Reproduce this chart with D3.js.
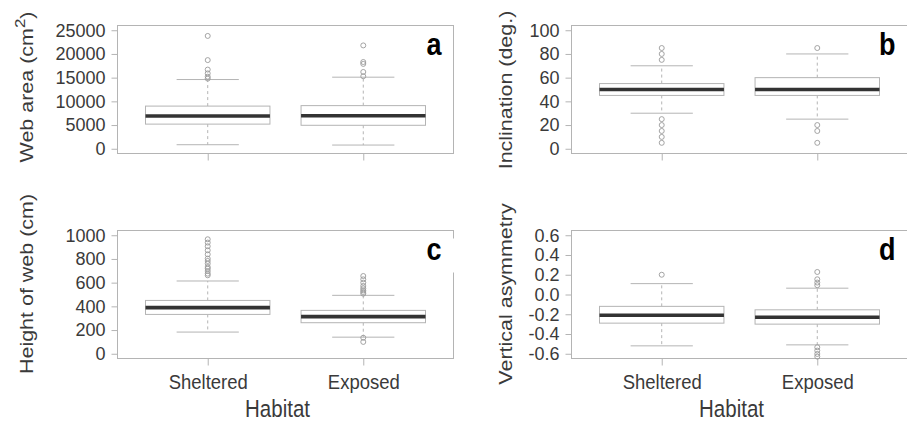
<!DOCTYPE html>
<html>
<head>
<meta charset="utf-8">
<script src="https://cdn.jsdelivr.net/npm/d3@7"></script>
<style>
body { margin: 0; background: #fff; }
svg { display: block; }
text { font-family: "Liberation Sans", Arial, sans-serif; }
</style>
</head>
<body>
<div id="chart"></div>
<script>
// categories on the x axis
const categories = ["Sheltered", "Exposed"];

// box stats per habitat: [lower whisker, Q1, median, Q3, upper whisker]
const webArea = [[850, 5200, 6900, 9000, 14600], [780, 4950, 6950, 9100, 15100]];
const webAreaOut = [[23800, 18700, 16700, 15900, 15200, 14800], [21800, 18300, 17900, 16200, 15300]];
const areaTicks = [0, 5000, 10000, 15000, 20000, 25000];

const inclination = [[30, 45, 50, 55, 70], [25, 45, 50, 60, 80]];
const inclinationOut = [[85, 80, 75, 25, 20, 15, 10, 5], [85, 20, 15, 5]];
const inclTicks = [0, 20, 40, 60, 80, 100];

const webHeight = [[183, 332, 389, 450, 614], [140, 262, 313, 366, 493]];
const webHeightOut = [[966, 938, 907, 873, 839, 803, 783, 761, 732, 718, 698, 676, 662],
                      [656, 628, 600, 572, 552, 535, 521, 507, 135, 100]];
const heightTicks = [0, 200, 400, 600, 800, 1000];

const asymmetry = [[-0.52, -0.29, -0.21, -0.12, 0.11], [-0.51, -0.30, -0.23, -0.155, 0.064]];
const asymmetryOut = [[0.2], [0.228, 0.154, 0.121, 0.094, -0.534, -0.568, -0.602, -0.629]];
const asymTicks = [-0.6, -0.4, -0.2, 0, 0.2, 0.4, 0.6];
const asymTickLabels = ["-0.6", "-0.4", "-0.2", "0.0", "0.2", "0.4", "0.6"];

const W = 907, H = 423;
const svg = d3.select('#chart').append('svg')
    .attr('width', W)
    .attr('height', H);

const panelW = 336, panelH = 128;
const cols = [117.5, 571.5];
const rows = [25.5, 230.5];
// the original text looks a bit stretched vertically
const stretch = 1.13;

const panels = [
  {stats: webArea, out: webAreaOut, ticks: areaTicks, fmt: d => String(d), ylim: [0, 25000],
   title: "Web area (cm", sup: "2", letter: "a", col: 0, row: 0, titleX: 33, titleY: 87},
  {stats: inclination, out: inclinationOut, ticks: inclTicks, fmt: d => String(d), ylim: [0, 100],
   title: "Inclination (deg.)", letter: "b", col: 1, row: 0, titleX: 512, titleY: 90},
  {stats: webHeight, out: webHeightOut, ticks: heightTicks, fmt: d => String(d), ylim: [0, 1000],
   title: "Height of web (cm)", letter: "c", col: 0, row: 1, titleX: 33, titleY: 284},
  {stats: asymmetry, out: asymmetryOut, ticks: asymTicks, fmt: (d, i) => asymTickLabels[i], ylim: [-0.6, 0.6],
   title: "Vertical asymmetry", letter: "d", col: 1, row: 1, titleX: 512, titleY: 294}
];

const grey = "#b4b4b4";
const textCol = "#3a3a3a";

panels.forEach(function(p, pi) {
  const x0 = cols[p.col], y0 = rows[p.row];
  const pad = (p.ylim[1] - p.ylim[0]) * 0.04;
  const yscale = d3.scaleLinear()
      .domain([p.ylim[0] - pad, p.ylim[1] + pad])
      .range([y0 + panelH, y0]);
  const xscale = d3.scaleLinear()
      .domain([0.42, 2.58])
      .range([x0, x0 + panelW]);
  const boxW = xscale(1.4) - xscale(1);
  const g = svg.append('g');

  // y axis ticks + labels
  const yaxis = d3.axisLeft(yscale)
      .tickValues(p.ticks)
      .tickSize(6)
      .tickPadding(6)
      .tickFormat(p.fmt);
  const ya = g.append('g')
      .attr('transform', `translate(${x0},0)`)
      .call(yaxis);
  ya.select('.domain').remove();
  ya.selectAll('line').attr('stroke', grey);
  ya.selectAll('text')
      .attr('fill', textCol)
      .style('font-size', '18px');

  // x axis ticks
  const xaxis = d3.axisBottom(xscale)
      .tickValues([1, 2])
      .tickSize(7)
      .tickFormat((d, i) => p.row === 1 ? categories[i] : "");
  const xa = g.append('g')
      .attr('transform', `translate(0,${y0 + panelH})`)
      .call(xaxis);
  xa.select('.domain').remove();
  xa.selectAll('line').attr('stroke', grey);
  xa.selectAll('text')
      .attr('fill', textCol)
      .attr('dy', null)
      .attr('y', 30.5 / stretch)
      .attr('transform', `scale(1,${stretch})`)
      .style('font-size', '18.5px');

  // frame
  g.append('rect')
      .attr('x', x0).attr('y', y0)
      .attr('width', panelW).attr('height', panelH)
      .attr('fill', 'none')
      .attr('stroke', grey)
      .attr('stroke-width', 1);

  // boxes
  p.stats.forEach(function(s, i) {
    const cx = xscale(i + 1);
    const bg = g.append('g');
    // dashed whiskers
    bg.append('line')
        .attr('x1', cx).attr('x2', cx)
        .attr('y1', yscale(s[3])).attr('y2', yscale(s[4]))
        .attr('stroke', grey).attr('stroke-dasharray', '3,3');
    bg.append('line')
        .attr('x1', cx).attr('x2', cx)
        .attr('y1', yscale(s[1])).attr('y2', yscale(s[0]))
        .attr('stroke', grey).attr('stroke-dasharray', '3,3');
    // staples
    [s[0], s[4]].forEach(function(v) {
      bg.append('line')
          .attr('x1', cx - boxW / 2).attr('x2', cx + boxW / 2)
          .attr('y1', yscale(v)).attr('y2', yscale(v))
          .attr('stroke', grey);
    });
    // box
    bg.append('rect')
        .attr('x', cx - boxW).attr('y', yscale(s[3]))
        .attr('width', boxW * 2).attr('height', yscale(s[1]) - yscale(s[3]))
        .attr('fill', '#fff')
        .attr('stroke', grey);
    // median
    bg.append('line')
        .attr('x1', cx - boxW).attr('x2', cx + boxW)
        .attr('y1', yscale(s[2])).attr('y2', yscale(s[2]))
        .attr('stroke', '#333').attr('stroke-width', 3.6);
    // outliers
    bg.selectAll('circle')
        .data(p.out[i])
        .enter().append('circle')
        .attr('cx', cx)
        .attr('cy', d => yscale(d))
        .attr('r', 2.5)
        .attr('fill', 'none')
        .attr('stroke', '#9a9a9a')
        .attr('stroke-width', 0.9);
  });

  // panel letter (white backing hides part of the frame, as in the original)
  const lx = x0 + panelW - 12, ly = y0 + 29;
  if (pi > 0) {
    g.append('rect')
        .attr('x', lx - 22).attr('y', ly - 21)
        .attr('width', x0 + panelW + 3 - (lx - 22)).attr('height', 34)
        .attr('fill', '#fff');
  }
  g.append('text')
      .attr('transform', `translate(${lx},${ly}) scale(1,${stretch})`)
      .attr('text-anchor', 'end')
      .style('font-size', '27px')
      .style('font-weight', 'bold')
      .attr('fill', '#000')
      .text(p.letter);

  // y title
  const t = g.append('text')
      .attr('transform', `translate(${p.titleX},${p.titleY}) scale(1,${stretch}) rotate(-90)`)
      .attr('text-anchor', 'middle')
      .attr('fill', textCol)
      .style('font-size', '19px');
  t.append('tspan').text(p.title);
  if (p.sup) {
    t.append('tspan').attr('dy', -8).style('font-size', '15px').text(p.sup);
    t.append('tspan').attr('dy', 8).text(")");
  }

  // x title
  if (p.row === 1) {
    g.append('text')
        .attr('transform', `translate(${x0 + panelW / 2 - 8},417) scale(1,${stretch})`)
        .attr('text-anchor', 'middle')
        .attr('fill', textCol)
        .style('font-size', '20.5px')
        .text("Habitat");
  }
});
</script>
</body>
</html>
